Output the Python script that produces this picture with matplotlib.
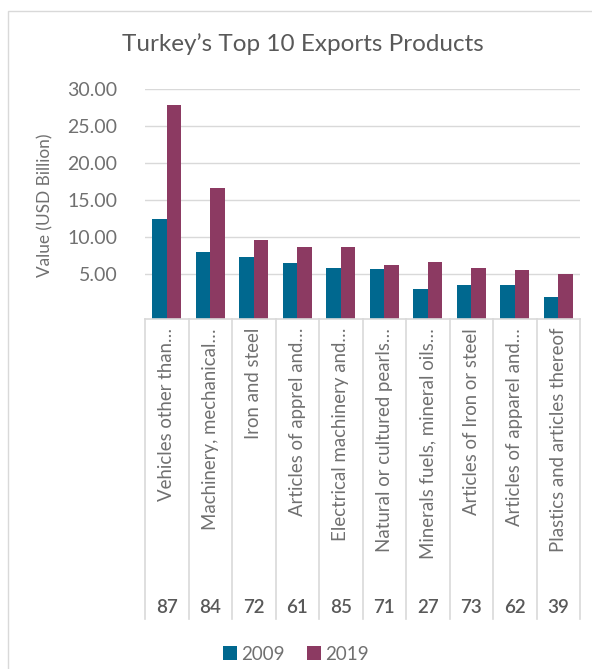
import numpy as np
import matplotlib
matplotlib.use("Agg")
import matplotlib.pyplot as plt
from matplotlib.patches import Rectangle

plt.rcParams['font.family'] = ['Lato', 'DejaVu Sans']

# data (USD billion)
products = ['Vehicles other than…', 'Machinery, mechanical…', 'Iron and steel',
            'Articles of apprel and…', 'Electrical machinery and…',
            'Natural or cultured pearls…', 'Minerals fuels, mineral oils…',
            'Articles of Iron or steel', 'Articles of apparel and…',
            'Plastics and articles thereof']
hs_codes = ['87', '84', '72', '61', '85', '71', '27', '73', '62', '39']
exports_2009 = [12.45, 8.00, 7.33, 6.52, 5.85, 5.71, 3.02, 3.56, 3.56, 1.94]
exports_2019 = [27.80, 16.63, 9.62, 8.67, 8.67, 6.25, 6.66, 5.85, 5.58, 5.04]
y_ticks = [5, 10, 15, 20, 25, 30]

c2009 = '#00688F'
c2019 = '#8C3A62'
grid_c = '#D9D9D9'
txt_c = '#707070'
dark_c = '#595959'

W, H = 592, 669
fig = plt.figure(figsize=(W / 100, H / 100), dpi=100)

# outer chart border (left and top visible)
fig.add_artist(Rectangle((7.5 / W, -0.1), 1.2, 1 - 11 / H + 0.1, transform=fig.transFigure,
                         fill=False, edgecolor=grid_c, lw=1.0))

ph = 319 - 88.7
ax = fig.add_axes([145 / W, 1 - 319 / H, 435 / W, ph / H])

base = -1  # axis floor sits a little below zero in the original
x = np.arange(len(products))
bw = 0.337
ax.bar(x - bw / 2, np.array(exports_2009) - base, bw, bottom=base, color=c2009, label='2009', zorder=3)
ax.bar(x + bw / 2, np.array(exports_2019) - base, bw, bottom=base, color=c2019, label='2019', zorder=3)

ax.set_xlim(-0.5, len(products) - 0.5)
ax.set_ylim(base, 30)
ax.set_yticks(y_ticks)
ax.set_yticklabels([f'{v:.2f}' for v in y_ticks], fontsize=14, color=txt_c)
ax.tick_params(axis='y', length=0, pad=20)
ax.set_xticks([])
for s in ax.spines.values():
    s.set_visible(False)
ax.grid(axis='y', color=grid_c, lw=1.0, zorder=0)
ax.set_axisbelow(True)

ax.set_ylabel('Value (USD Billion)', fontsize=12.4, color=txt_c)
ax.yaxis.set_label_coords((53 - 145) / 435, (319 - 205) / ph)

# category table below the plot
tr = ax.get_xaxis_transform()
tbl_bottom = (319 - 619) / ph
ax.plot([-0.5, len(products) - 0.5], [0, 0], transform=tr, color=grid_c, lw=1.2, clip_on=False, zorder=4)
for xi in np.arange(-0.5, len(products), 1.0):
    ax.plot([xi, xi], [0, tbl_bottom], transform=tr, color=grid_c, lw=1.2, clip_on=False)
for i, (name, code) in enumerate(zip(products, hs_codes)):
    ax.text(i, (319 - 328) / ph, name, rotation=90, ha='center', va='top',
            fontsize=13.4, color=txt_c, transform=tr)
    ax.text(i, (319 - 607) / ph, code, ha='center', va='center',
            fontsize=13.5, color=dark_c, fontweight='semibold', transform=tr)

fig.text(303 / W, 1 - 44 / H, 'Turkey\u2019s Top 10 Exports Products', ha='center', va='center',
         fontsize=17.5, color=dark_c)

leg = fig.legend(loc='center', bbox_to_anchor=(296 / W, 1 - 654 / H), ncol=2, frameon=False,
                 fontsize=13.5, handlelength=0.75, handleheight=0.75, handletextpad=0.2,
                 columnspacing=1.2)
for t in leg.get_texts():
    t.set_color(txt_c)

fig.savefig('out.png', dpi=100)
